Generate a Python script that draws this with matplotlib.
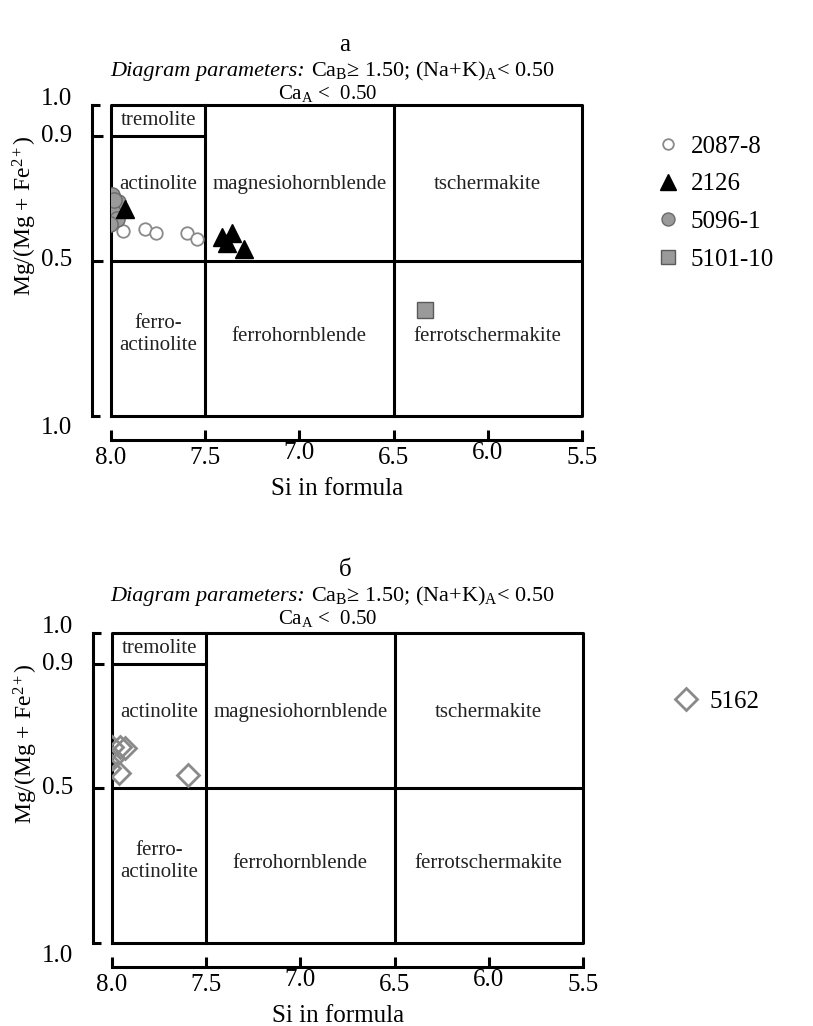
import matplotlib
matplotlib.use('Agg')
import matplotlib.pyplot as plt
import matplotlib.transforms as mtransforms

plt.rcParams['font.family'] = ['Liberation Serif', 'DejaVu Serif']
plt.rcParams['mathtext.fontset'] = 'custom'
plt.rcParams['mathtext.rm'] = 'Liberation Serif'
plt.rcParams['mathtext.it'] = 'Liberation Serif:italic'

# field boundaries of the Ca-amphibole diagram
si_range = [8.0, 5.5]
si_bounds = [7.5, 6.5]
mg_bound = 0.5
trem_si = 7.5
trem_mg = 0.9

x_ticks = [8.0, 7.5, 7.0, 6.5, 6.0, 5.5]
x_tick_labels = ['8.0', '7.5', '7.0', '6.5', '6.0', '5.5']
y_ticks = [1.0, 0.9, 0.5, 0.0]
y_tick_labels = ['1.0', '0.9', '0.5', '1.0']

fields = ['tremolite', 'actinolite', 'magnesiohornblende', 'tschermakite',
          'ferro-\nactinolite', 'ferrohornblende', 'ferrotschermakite']
field_si = [7.75, 7.75, 7.0, 6.0, 7.75, 7.0, 6.0]
field_mg = [0.95, 0.745, 0.745, 0.745, 0.262, 0.255, 0.255]

# panel a samples
s2087_si = [7.936, 7.82, 7.761, 7.597, 7.544]
s2087_mg = [0.595, 0.601, 0.588, 0.588, 0.569]
s2126_si = [7.926, 7.41, 7.358, 7.384, 7.294]
s2126_mg = [0.666, 0.576, 0.588, 0.556, 0.537]
s5096_si = [7.996, 7.963, 8.018, 7.99, 7.968, 8.003, 7.985]
s5096_mg = [0.712, 0.688, 0.672, 0.655, 0.632, 0.617, 0.695]
s5101_si = [6.333]
s5101_mg = [0.341]

# panel b samples
s5162_si = [8.0, 7.957, 7.93, 8.028, 7.995, 7.963, 8.016, 7.598]
s5162_mg = [0.633, 0.632, 0.629, 0.587, 0.597, 0.548, 0.565, 0.542]

fig = plt.figure(figsize=(8.13, 10.26), dpi=100)
W, H = 813, 1026


def draw_panel(box_px, title, title_y):
    left, top, right, bottom = box_px
    ax = fig.add_axes([left / W, 1 - bottom / H, (right - left) / W, (bottom - top) / H])
    ax.set_xlim(si_range[0], si_range[1])
    ax.set_ylim(0, 1)
    for s in ['top', 'right']:
        ax.spines[s].set_visible(False)
    ax.spines['left'].set_position(('outward', 13.5))
    ax.spines['bottom'].set_position(('outward', 17))
    ax.spines['left'].set_bounds(0, 1)
    ax.spines['bottom'].set_bounds(si_range[0], si_range[1])
    ax.spines['left'].set_linewidth(2.2)
    ax.spines['bottom'].set_linewidth(2.2)

    ax.set_xticks(x_ticks)
    ax.set_xticklabels([])
    ax.tick_params(axis='x', direction='in', length=7, width=2.2)
    ax.set_yticks([0.9, 0.5])
    ax.set_yticks([0.0, 1.0], minor=True)
    ax.set_yticklabels([])
    ax.tick_params(axis='y', which='major', direction='in', length=8, width=2.2)
    ax.tick_params(axis='y', which='minor', direction='in', length=6, width=2.2)

    # tick labels (7.0 and 6.0 sit a little higher, as in the original)
    xt = mtransforms.blended_transform_factory(ax.transData, ax.transAxes)
    for v, lab in zip(x_ticks, x_tick_labels):
        dy = -19 if v in (7.0, 6.0) else -22
        tr = mtransforms.offset_copy(xt, fig=fig, x=0, y=dy, units='points')
        ax.text(v, 0, lab, transform=tr, ha='center', va='top', fontsize=18)
    yt = mtransforms.blended_transform_factory(ax.transAxes, ax.transData)
    for v, lab in zip(y_ticks, y_tick_labels):
        dy = {1.0: 4, 0.0: -9}.get(v, 0)
        tr = mtransforms.offset_copy(yt, fig=fig, x=-28, y=dy, units='points')
        ax.text(0, v, lab, transform=tr, ha='right', va='center', fontsize=18)

    # diagram box and field boundaries
    lw = 2.2
    ax.plot([si_range[0], si_range[1], si_range[1], si_range[0], si_range[0]],
            [0, 0, 1, 1, 0], color='black', lw=lw, clip_on=False, zorder=1)
    for s in si_bounds:
        ax.plot([s, s], [0, 1], color='black', lw=lw, clip_on=False, zorder=1)
    ax.plot(si_range, [mg_bound, mg_bound], color='black', lw=lw, zorder=1)
    ax.plot([si_range[0], trem_si], [trem_mg, trem_mg], color='black', lw=lw, zorder=1)

    for name, xs, ys in zip(fields, field_si, field_mg):
        ax.text(xs, ys, name, ha='center', va='center', fontsize=15,
                color='#222222', linespacing=1.2)

    ax.set_xlabel('Si in formula', fontsize=18)
    ax.xaxis.set_label_coords(0.48, -0.2)
    ax.set_ylabel(r'Mg/(Mg + Fe$^{\mathregular{2+}}$)', fontsize=17)
    ax.yaxis.set_label_coords(-0.152, 0.643)

    fig.text(0.424, title_y, title, ha='center', va='center', fontsize=18)
    line1_y = title_y - 31 / H
    fig.text(305 / W, line1_y, 'Diagram parameters:', ha='right',
             va='baseline', fontsize=16, style='italic')
    fig.text(311 / W, line1_y,
             r'Ca$_{\mathregular{B}}$≥ 1.50; (Na+K)$_{\mathregular{A}}$< 0.50',
             fontsize=16, ha='left', va='baseline')
    fig.text(328 / W, title_y - 54 / H, r'Ca$_{\mathregular{A}}$ <  0.50',
             ha='center', va='baseline', fontsize=15)
    return ax


ax1 = draw_panel((111, 105, 582, 416), 'а', 1 - 45 / H)
ax1.plot(s2087_si, s2087_mg, 'o', ls='none', ms=9, mfc='white', mec='#8a8a8a',
         mew=1.3, label='2087-8', zorder=3)
ax1.plot(s2126_si, s2126_mg, '^', ls='none', ms=13, color='black', label='2126', zorder=4)
ax1.plot(s5096_si, s5096_mg, 'o', ls='none', ms=11, mfc='#9a9a9a', mec='#6a6a6a',
         mew=1.0, label='5096-1', zorder=3)
ax1.plot(s5101_si, s5101_mg, 's', ls='none', ms=12, mfc='#9a9a9a', mec='#5a5a5a',
         mew=1.0, label='5101-10', zorder=3)
ax1.legend(loc='upper left', bbox_to_anchor=(633 / W, 1 - 113 / H),
           bbox_transform=fig.transFigure, frameon=False, fontsize=18,
           handlelength=1.0, handletextpad=0.4, labelspacing=0.6, markerscale=0.85)

ax2 = draw_panel((112, 633, 583, 943), 'б', 1 - 570 / H)
ax2.plot(s5162_si, s5162_mg, 'D', ls='none', ms=11, mfc='none', mec='#8a8a8a',
         mew=2.0, label='5162', zorder=3)
ax2.legend(loc='upper left', bbox_to_anchor=(651 / W, 1 - 668 / H),
           bbox_transform=fig.transFigure, frameon=False, fontsize=18,
           handlelength=1.0, handletextpad=0.45)

fig.savefig('out.png', dpi=100)
